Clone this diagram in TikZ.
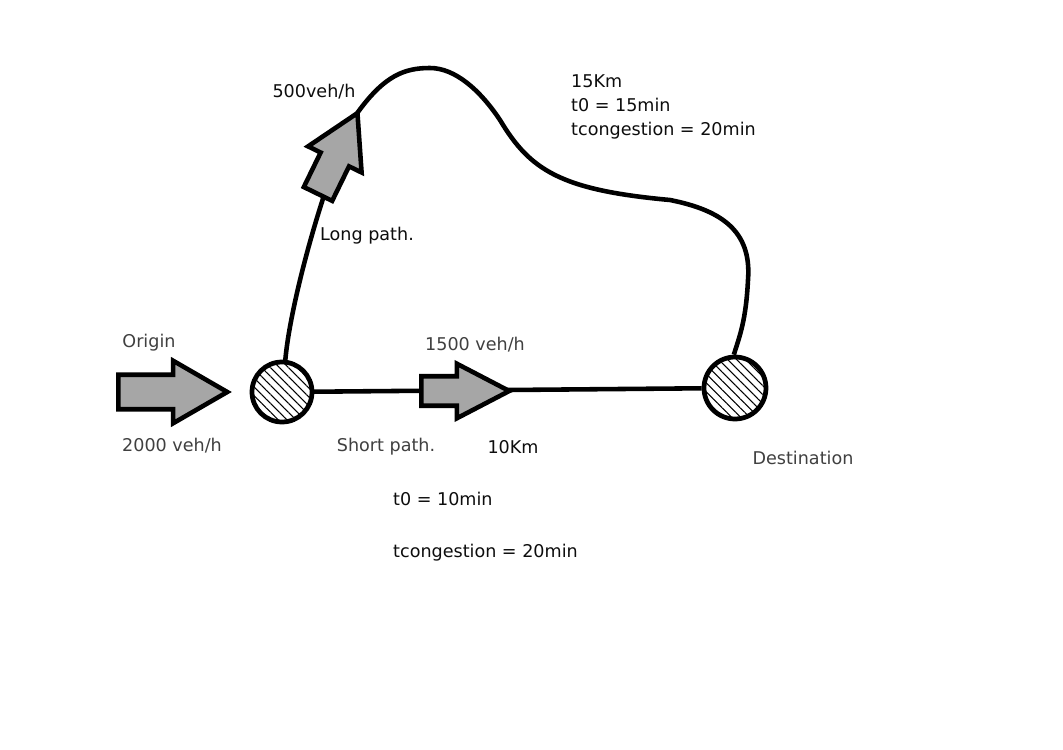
\documentclass[tikz,border=0pt]{standalone}
\usepackage{fontspec}
\setmainfont{DejaVu Sans}
\usetikzlibrary{shapes,shapes.arrows,patterns.meta}

\begin{document}
\begin{tikzpicture}[x=0.02cm,y=-0.02cm,
  stop/.style={shape=circle,draw=black,line width=2.7pt,minimum size=1.2cm,inner sep=0pt,pattern={Lines[angle=-45,distance=3.6pt,line width=0.6pt]}},
  flow/.style={shape=single arrow,draw=black,line width=2.6pt,fill=black!35,inner xsep=0pt,single arrow head indent=0pt,anchor=tail},
  lbl/.style={text=black!75,font=\fontsize{10}{12}\selectfont},
  txt/.style={text=black!95,font=\fontsize{10}{13.6}\selectfont,align=left}]
\useasboundingbox (0,0) rectangle (1063,750);

\node[stop] (o) at (282,392) {};
\node[stop,minimum size=1.24cm] (d) at (735,388) {};

\path [-,draw=black,line width=2.6pt] (o) edge node {} (d);
\draw [-,line width=2.6pt] (o.84) .. controls (290,300) and (330,160) .. (358,112)
  .. controls (385,75) and (405,68) .. (430,68)
  .. controls (455,68) and (480,90) .. (500,120)
  .. controls (530,170) and (560,190) .. (670,200)
  .. controls (720,210) and (752,230) .. (748,280)
  .. controls (746,320) and (740,335) .. (d.92);

\node[flow,minimum height=2.18cm,inner ysep=0.3cm,single arrow head extend=0.28cm,single arrow tip angle=60] (in) at (116,392) {};
\node[flow,minimum height=1.76cm,inner ysep=0.25cm,single arrow head extend=0.25cm,single arrow tip angle=55] (short) at (419,391) {};
\node[flow,minimum height=1.8cm,inner ysep=0.27cm,single arrow head extend=0.28cm,single arrow tip angle=60,rotate=64] (long) at (317,196) {};

\node[lbl] (orig) at (149,343) {Origin};
\node[lbl] (dem) at (172,446) {2000 veh/h};
\node[lbl] (qs) at (475,345) {1500 veh/h};
\node[lbl] (sp) at (386,447) {Short path.};
\node[txt] (ls) at (513,447) {10Km};
\node[lbl] (dest) at (803,458) {Destination};
\node[txt,anchor=west] (ts0) at (387,499) {t0 = 10min};
\node[txt,anchor=west] (tsc) at (387,553) {tcongestion = 20min};
\node[txt] (ql) at (314,92) {500veh/h};
\node[txt,anchor=west] (lp) at (314,236) {Long path.};
\node[txt,anchor=west] (ll) at (565,107) {15Km\\t0 = 15min\\tcongestion = 20min};
\end{tikzpicture}
\end{document}
